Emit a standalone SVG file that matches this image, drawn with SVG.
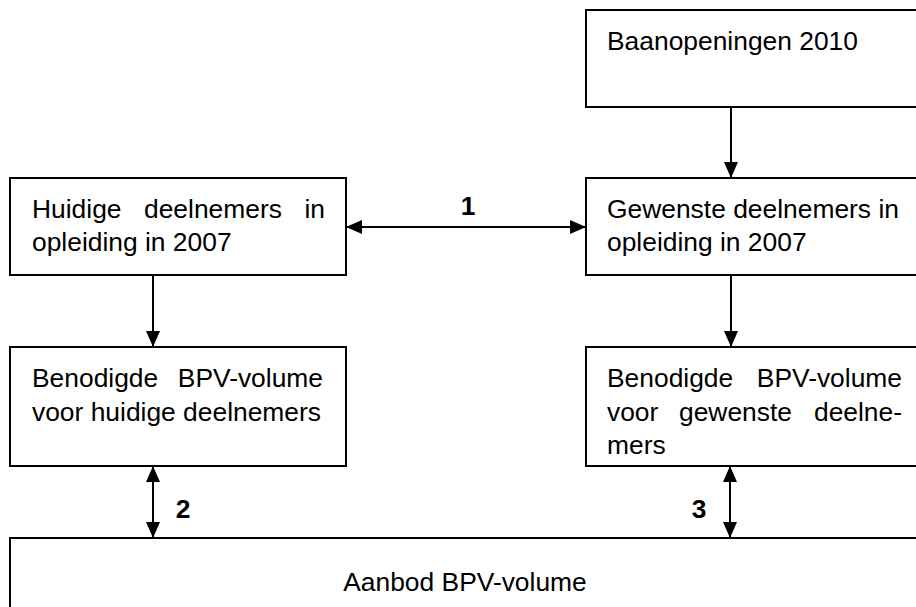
<svg xmlns="http://www.w3.org/2000/svg" width="916" height="607" viewBox="0 0 916 607">
  <defs>
    <marker id="head" viewBox="0 0 16 14" refX="16" refY="7" markerWidth="16" markerHeight="14" markerUnits="userSpaceOnUse" orient="auto-start-reverse">
      <path d="M0,0 L16,7 L0,14 Z" fill="#000"/>
    </marker>
    <style>
      .box { fill: #fff; stroke: #000; stroke-width: 2; }
      .lbl { font-family: "Liberation Sans", Arial, sans-serif; font-size: 26.4px; fill: #000; }
      .num { font-family: "Liberation Sans", Arial, sans-serif; font-size: 26.4px; font-weight: bold; fill: #000; }
      .conn { stroke: #000; stroke-width: 2; fill: none; }
    </style>
  </defs>
  <rect width="916" height="607" fill="#fff"/>

  <g id="connectors">
    <line class="conn" x1="731" y1="107" x2="731" y2="178" marker-end="url(#head)"/>
    <line class="conn" x1="153" y1="275" x2="153" y2="347" marker-end="url(#head)"/>
    <line class="conn" x1="731" y1="275" x2="731" y2="347" marker-end="url(#head)"/>
    <line class="conn" x1="346" y1="227" x2="586" y2="227" marker-start="url(#head)" marker-end="url(#head)"/>
    <line class="conn" x1="153" y1="466" x2="153" y2="538" marker-start="url(#head)" marker-end="url(#head)"/>
    <line class="conn" x1="730" y1="466" x2="730" y2="538" marker-start="url(#head)" marker-end="url(#head)"/>
    <text class="num" x="468" y="215" text-anchor="middle">1</text>
    <text class="num" x="183" y="518" text-anchor="middle">2</text>
    <text class="num" x="699" y="518" text-anchor="middle">3</text>
  </g>

  <g id="baanopeningen">
    <rect class="box" x="586" y="10" width="340" height="97"/>
    <text class="lbl" x="607" y="50">Baanopeningen 2010</text>
  </g>

  <g id="huidige-deelnemers">
    <rect class="box" x="10" y="178" width="336" height="97"/>
    <text class="lbl" y="218"><tspan x="32">Huidige</tspan><tspan x="144">deelnemers</tspan><tspan x="325" text-anchor="end">in</tspan></text>
    <text class="lbl" x="32" y="251">opleiding in 2007</text>
  </g>

  <g id="gewenste-deelnemers">
    <rect class="box" x="586" y="178" width="340" height="97"/>
    <text class="lbl" x="607" y="218">Gewenste deelnemers in</text>
    <text class="lbl" x="607" y="251">opleiding in 2007</text>
  </g>

  <g id="bpv-huidige">
    <rect class="box" x="10" y="347" width="336" height="119"/>
    <text class="lbl" y="387"><tspan x="32">Benodigde</tspan><tspan x="323" text-anchor="end">BPV-volume</tspan></text>
    <text class="lbl" x="32" y="421">voor huidige deelnemers</text>
  </g>

  <g id="bpv-gewenste">
    <rect class="box" x="586" y="347" width="340" height="119"/>
    <text class="lbl" y="387"><tspan x="607">Benodigde</tspan><tspan x="902" text-anchor="end">BPV-volume</tspan></text>
    <text class="lbl" y="421"><tspan x="607">voor</tspan><tspan x="679">gewenste</tspan><tspan x="902" text-anchor="end">deelne-</tspan></text>
    <text class="lbl" x="607" y="454">mers</text>
  </g>

  <g id="aanbod">
    <rect class="box" x="10" y="538" width="916" height="80"/>
    <text class="lbl" x="465" y="591" text-anchor="middle">Aanbod BPV-volume</text>
  </g>
</svg>
